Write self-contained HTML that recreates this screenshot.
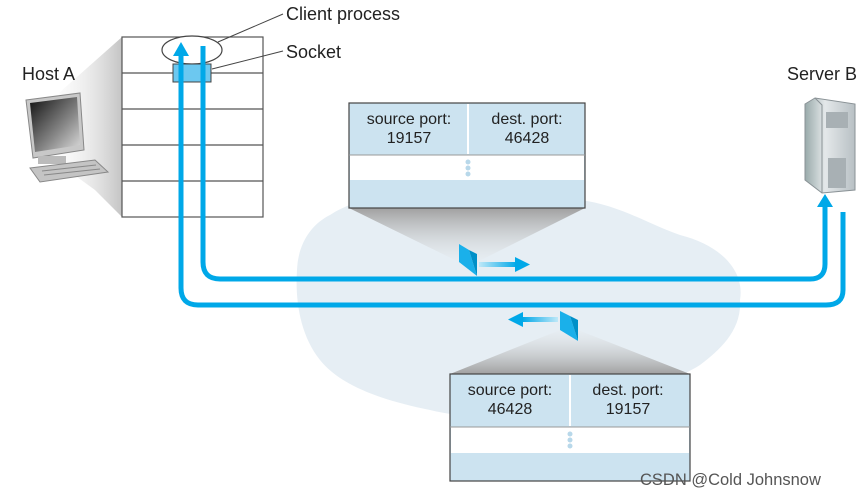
<!DOCTYPE html>
<html><head><meta charset="utf-8"><style>
body{margin:0;width:867px;height:496px;background:#fff;overflow:hidden}
svg{display:block}
text{font-family:"Liberation Sans","DejaVu Sans",sans-serif;fill:#222}
</style></head><body>
<svg width="867" height="496" viewBox="0 0 867 496">
<defs>
<linearGradient id="fun" x1="0" y1="0" x2="0" y2="1"><stop offset="0" stop-color="#a0a0a0"/><stop offset="1" stop-color="#e8ecef" stop-opacity="0.3"/></linearGradient>
<linearGradient id="funb" x1="0" y1="1" x2="0" y2="0"><stop offset="0" stop-color="#a0a0a0"/><stop offset="1" stop-color="#e8ecef" stop-opacity="0.3"/></linearGradient>
<linearGradient id="funh" x1="1" y1="0" x2="0" y2="0"><stop offset="0" stop-color="#c4c4c4"/><stop offset="1" stop-color="#ffffff" stop-opacity="0"/></linearGradient>
<linearGradient id="scr" x1="0" y1="0" x2="1" y2="1"><stop offset="0" stop-color="#111"/><stop offset="0.6" stop-color="#888"/><stop offset="1" stop-color="#ddd"/></linearGradient>
<linearGradient id="arr" x1="0" y1="0" x2="1" y2="0"><stop offset="0" stop-color="#bfe8f8"/><stop offset="1" stop-color="#00a8e8"/></linearGradient>
<linearGradient id="arr2" x1="1" y1="0" x2="0" y2="0"><stop offset="0" stop-color="#bfe8f8"/><stop offset="1" stop-color="#00a8e8"/></linearGradient>
<linearGradient id="srv" x1="0" y1="0" x2="1" y2="0"><stop offset="0" stop-color="#9aa"/><stop offset="0.4" stop-color="#e4e8ea"/><stop offset="1" stop-color="#b8c0c4"/></linearGradient>
</defs>
<path d="M330 215 C360 195 420 185 470 200 C520 190 560 195 580 200 C620 205 650 225 680 235 C720 245 745 270 740 300 C742 330 720 350 700 365 C660 390 600 400 560 405 C520 418 470 420 430 410 C380 400 340 385 320 360 C300 335 295 300 297 270 C298 245 310 225 330 215 Z" fill="#e6eef4"/>
<polygon points="122,37 122,217 95,190 40,150 60,92" fill="url(#funh)"/>
<polygon points="349,208 585,208 477,262 459,262" fill="url(#fun)"/>
<polygon points="450,374 690,374 578,330 560,330" fill="url(#funb)"/>
<rect x="122" y="37" width="141" height="180" fill="#fff" stroke="#555" stroke-width="1.2"/>
<g stroke="#555" stroke-width="1.2"><line x1="122" y1="73" x2="263" y2="73"/><line x1="122" y1="109" x2="263" y2="109"/><line x1="122" y1="145" x2="263" y2="145"/><line x1="122" y1="181" x2="263" y2="181"/></g>
<ellipse cx="192" cy="50" rx="30" ry="14" fill="#fff" stroke="#444" stroke-width="1.2"/>
<rect x="173" y="64" width="38" height="18" fill="#6cc8f0" stroke="#444" stroke-width="1"/>
<line x1="218" y1="42" x2="283" y2="14" stroke="#444" stroke-width="1"/>
<line x1="212" y1="69" x2="283" y2="51" stroke="#444" stroke-width="1"/>
<text x="286" y="20" font-size="18">Client process</text>
<text x="286" y="58" font-size="18">Socket</text>
<text x="22" y="80" font-size="18">Host A</text>
<g>
<path d="M26 100 L80 93 L84 150 L33 158 Z" fill="#c8c8c8" stroke="#888"/>
<path d="M30 103 L77 97 L80 145 L35 152 Z" fill="url(#scr)"/>
<rect x="38" y="156" width="28" height="8" fill="#bbb"/>
<path d="M30 168 L95 160 L108 172 L40 182 Z" fill="#c4c4c4" stroke="#888"/>
<g stroke="#888"><line x1="42" y1="171" x2="96" y2="165"/><line x1="44" y1="175" x2="100" y2="169"/></g>
</g>
<g>
<path d="M805 104 L815 98 L855 104 L855 190 L822 193 L805 180 Z" fill="url(#srv)" stroke="#8a9296"/>
<path d="M815 98 L822 105 L822 193" fill="none" stroke="#8a9296"/>
<rect x="826" y="112" width="22" height="16" fill="#a8b0b4"/>
<rect x="828" y="158" width="18" height="30" fill="#a8b0b4"/>
</g>
<text x="787" y="80" font-size="18">Server B</text>
<g fill="none" stroke="#00a8e8" stroke-width="5">
<path d="M203 46 L203 262 Q203 279 220 279 L810 279 Q825 279 825 264 L825 205"/>
<path d="M181 54 L181 288 Q181 305 198 305 L826 305 Q843 305 843 290 L843 212"/>
</g>
<polygon points="173,56 181,42 189,56" fill="#00a8e8"/>
<polygon points="817,207 825,194 833,207" fill="#00a8e8"/>
<polygon points="459,244 469,250 477,276 477,276 459,262" fill="#1ab0ea"/>
<polygon points="469,250 477,254 477,276" fill="#0090c8"/>
<rect x="479" y="262" width="38" height="5" fill="url(#arr)"/>
<polygon points="515,257 530,264.5 515,272" fill="#00a8e8"/>
<polygon points="560,311 570,316 578,341 560,330" fill="#1ab0ea"/>
<polygon points="570,316 578,320 578,341" fill="#0090c8"/>
<rect x="522" y="317" width="36" height="5" fill="url(#arr2)"/>
<polygon points="523,312 508,319.5 523,327" fill="#00a8e8"/>
<rect x="349" y="103" width="236" height="105" fill="#cce3f0" stroke="#444" stroke-width="1.2"/>
<rect x="350" y="155" width="234" height="25" fill="#fff"/>
<line x1="349" y1="155" x2="585" y2="155" stroke="#999"/>
<line x1="468" y1="104" x2="468" y2="154" stroke="#fff" stroke-width="2"/>
<g fill="#b8d8ea"><circle cx="468" cy="162" r="2.5"/><circle cx="468" cy="168" r="2.5"/><circle cx="468" cy="174" r="2.5"/></g>
<text x="409" y="124" font-size="16" text-anchor="middle">source port:</text>
<text x="409" y="143" font-size="16" text-anchor="middle">19157</text>
<text x="527" y="124" font-size="16" text-anchor="middle">dest. port:</text>
<text x="527" y="143" font-size="16" text-anchor="middle">46428</text>
<rect x="450" y="374" width="240" height="107" fill="#cce3f0" stroke="#444" stroke-width="1.2"/>
<rect x="451" y="427" width="238" height="26" fill="#fff"/>
<line x1="450" y1="427" x2="690" y2="427" stroke="#999"/>
<line x1="570" y1="375" x2="570" y2="426" stroke="#fff" stroke-width="2"/>
<g fill="#b8d8ea"><circle cx="570" cy="434" r="2.5"/><circle cx="570" cy="440" r="2.5"/><circle cx="570" cy="446" r="2.5"/></g>
<text x="510" y="395" font-size="16" text-anchor="middle">source port:</text>
<text x="510" y="414" font-size="16" text-anchor="middle">46428</text>
<text x="628" y="395" font-size="16" text-anchor="middle">dest. port:</text>
<text x="628" y="414" font-size="16" text-anchor="middle">19157</text>
<text x="640" y="485" font-size="16.5" style="fill:#555">CSDN @Cold Johnsnow</text>
</svg>
</body></html>
